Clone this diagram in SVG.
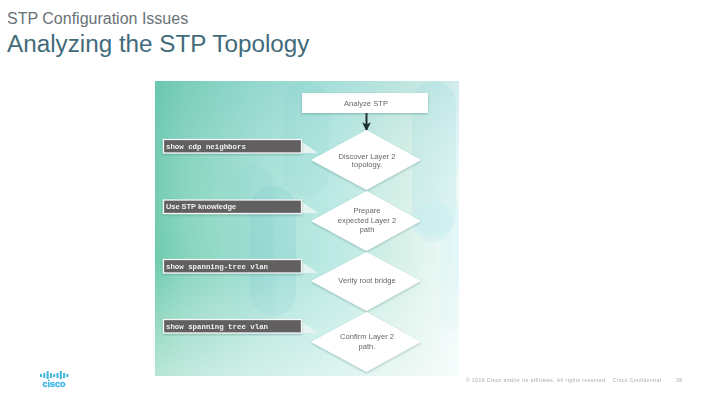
<svg xmlns="http://www.w3.org/2000/svg" width="720" height="405" viewBox="0 0 720 405">
<style>
.sans{font-family:"Liberation Sans",Arial,sans-serif}
.mono{font-family:"Liberation Mono","Courier New",monospace;font-weight:bold;font-size:7.4px;fill:#f2f2f2}
.step{fill:#fff;filter:url(#sh)}
.t{font-family:"Liberation Sans",Arial,sans-serif;font-size:7.6px;fill:#666;text-anchor:middle}
.lab{fill:#625f61;stroke:#f4f8f7;stroke-width:1.3}
.tail{fill:#e6f4f1}
.blob{fill:#6cc4c4;opacity:.09}
.foot{font-family:"Liberation Sans",Arial,sans-serif;font-size:5px;fill:#a9a9a9;letter-spacing:.46px}
.bar{fill:#3fb4dc}
</style>
<defs>
<linearGradient id="bg" x1="0" y1="0" x2="1" y2="0">
<stop offset="0" stop-color="#6ecbae"/>
<stop offset=".1" stop-color="#86d4bd"/>
<stop offset=".35" stop-color="#a6e1d6"/>
<stop offset=".6" stop-color="#bdeae5"/>
<stop offset=".82" stop-color="#d9f1e8"/>
<stop offset="1" stop-color="#f0fbfb"/>
</linearGradient>
<linearGradient id="fade" x1="0" y1="0" x2="0" y2="1">
<stop offset="0" stop-color="#4fb2b4" stop-opacity=".2"/>
<stop offset=".6" stop-color="#ffffff" stop-opacity="0"/>
<stop offset="1" stop-color="#ffffff" stop-opacity=".5"/>
</linearGradient>
<filter id="sh" x="-10%" y="-15%" width="120%" height="135%">
<feDropShadow dx="0" dy="1" stdDeviation="0.8" flood-color="#2d6a63" flood-opacity=".4"/>
</filter>
<filter id="soft"><feGaussianBlur stdDeviation=".35"/></filter>
<marker id="ah" viewBox="0 0 8 8" refX="7" refY="4" markerWidth="4.4" markerHeight="4.4" orient="auto-start-reverse" markerUnits="strokeWidth">
<path d="M0 0L8 4L0 8L2 4Z" fill="#1f2d33"/>
</marker>
</defs>

<rect width="720" height="405" fill="#fff"/>
<text id="subtitle" class="sans" x="7" y="24" font-size="16" fill="#6a7276">STP Configuration Issues</text>
<text id="title" class="sans" x="7" y="52" font-size="24.250" fill="#3f6b7a">Analyzing the STP Topology</text>

<g id="panel">
<rect x="155" y="81" width="304" height="295" fill="url(#bg)"/>
<rect x="283" y="81" width="46" height="115" rx="23" class="blob"/>
<rect x="229" y="165" width="46" height="170" rx="23" class="blob"/>
<rect x="250" y="186" width="46" height="130" rx="23" fill="#5cb8c8" opacity=".14"/>
<rect x="412" y="81" width="44" height="155" rx="22" fill="#8fd8e0" opacity=".18"/>
<rect x="440" y="200" width="19" height="130" rx="9" fill="#d8f3f3" opacity=".4"/>
<rect x="155" y="81" width="304" height="295" fill="url(#fade)"/>
<circle cx="433" cy="222" r="20" fill="#c7eef2" opacity=".45"/>
</g>

<g id="connectors" filter="url(#soft)">
<path d="M366.500 113V130" stroke="#1f2d33" stroke-width="2" fill="none" marker-end="url(#ah)"/>
<path class="tail" d="M302 142L318 153H302Z"/>
<path class="tail" d="M302 202L318 213H302Z"/>
<path class="tail" d="M302 262L318 273H302Z"/>
<path class="tail" d="M302 322L318 333H302Z"/>
</g>

<g filter="url(#soft)">
<g id="analyze">
<rect class="step" x="302" y="93" width="126" height="20"/>
<text class="t" x="366" y="106">Analyze STP</text>
</g>
<g id="discover">
<path class="step" d="M366.500 130L421 160L366.500 190L311 160Z"/>
<text class="t" x="367" y="159">Discover Layer 2</text>
<text class="t" x="367" y="166.500">topology.</text>
</g>
<g id="prepare">
<path class="step" d="M366.500 191L421 221L366.500 251L311 221Z"/>
<text class="t" x="367" y="213">Prepare</text>
<text class="t" x="367" y="222.500">expected Layer 2</text>
<text class="t" x="367" y="232">path</text>
</g>
<g id="verify">
<path class="step" d="M366.500 252L421 281L366.500 311L311 281Z"/>
<text class="t" x="367" y="283">Verify root bridge</text>
</g>
<g id="confirm">
<path class="step" d="M366.500 312L421 342L366.500 372L311 342Z"/>
<text class="t" x="367" y="339">Confirm Layer 2</text>
<text class="t" x="367" y="349">path.</text>
</g>
<g id="label1">
<rect class="lab" x="163.500" y="139.500" width="138" height="13.500" filter="url(#sh)"/>
<text class="mono" x="166" y="148.500">show cdp neighbors</text>
</g>
<g id="label2">
<rect class="lab" x="163.500" y="200" width="138" height="13.500" filter="url(#sh)"/>
<text class="sans" x="166" y="209" font-size="7.400" font-weight="bold" fill="#f2f2f2">Use STP knowledge</text>
</g>
<g id="label3">
<rect class="lab" x="163.500" y="259.500" width="138" height="13.500" filter="url(#sh)"/>
<text class="mono" x="166" y="268.500">show spanning-tree vlan</text>
</g>
<g id="label4">
<rect class="lab" x="163.500" y="319.500" width="138" height="13.500" filter="url(#sh)"/>
<text class="mono" x="166" y="328.500">show spanning tree vlan</text>
</g>
</g>

<g id="logo">
<rect class="bar" x="40" y="374" width="2" height="3"/>
<rect class="bar" x="43.300" y="373" width="2" height="5"/>
<rect class="bar" x="46.600" y="371" width="2" height="8"/>
<rect class="bar" x="49.900" y="373" width="2" height="5"/>
<rect class="bar" x="53.200" y="374" width="2" height="3"/>
<rect class="bar" x="56.500" y="373" width="2" height="5"/>
<rect class="bar" x="59.800" y="371" width="2" height="8"/>
<rect class="bar" x="63.100" y="373" width="2" height="5"/>
<rect class="bar" x="66.400" y="374" width="2" height="3"/>
<text class="sans" x="54" y="386.500" font-size="9" font-weight="bold" fill="#37b3e4" text-anchor="middle" stroke="#37b3e4" stroke-width=".3">cisco</text>
</g>

<g id="footer">
<text class="foot" x="466" y="382">© 2016 Cisco and/or its affiliates. All rights reserved.</text>
<text class="foot" x="613" y="382">Cisco Confidential</text>
<text class="foot" x="676" y="382">38</text>
</g>
</svg>
